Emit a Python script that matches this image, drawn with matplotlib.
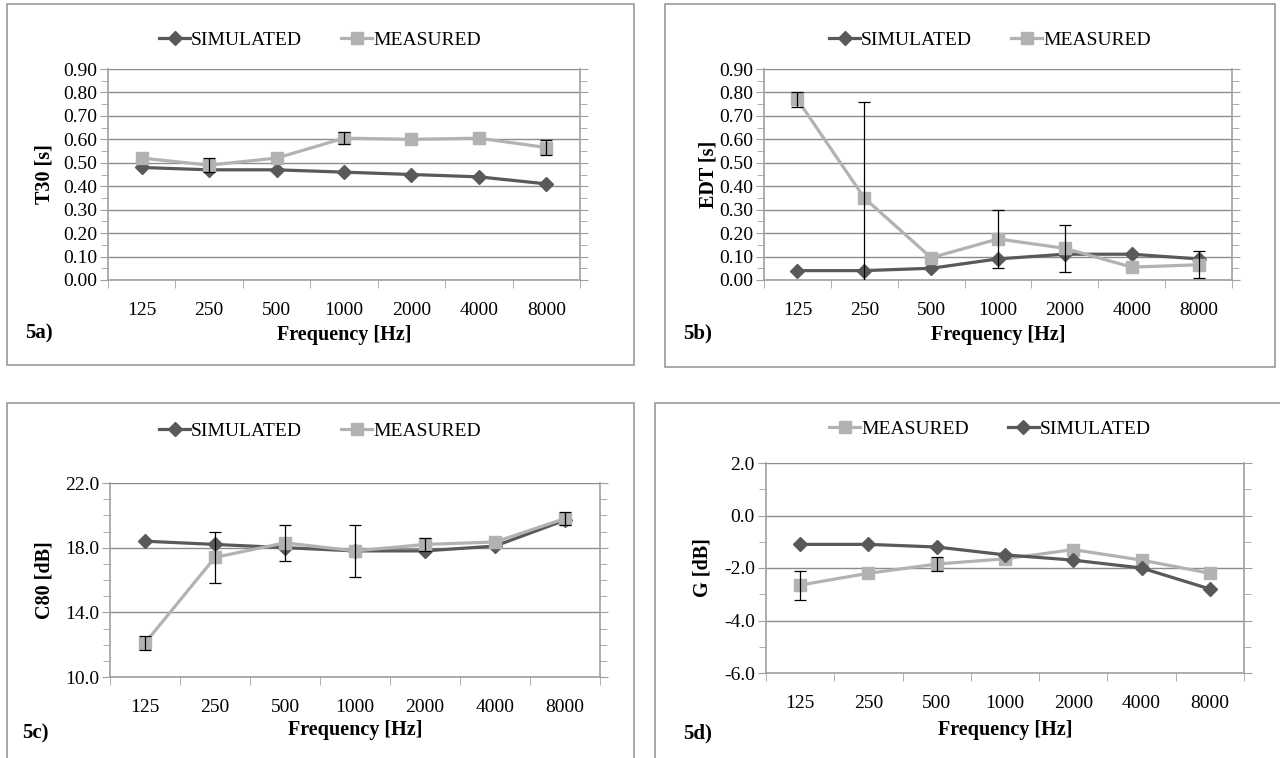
import numpy as np
import matplotlib.pyplot as plt
from matplotlib.patches import Rectangle

plt.rcParams['font.family'] = ['Liberation Serif', 'DejaVu Serif']

freqs = ['125', '250', '500', '1000', '2000', '4000', '8000']

# 0 = error bar too small to be seen under the marker
t30_sim = [0.48, 0.47, 0.47, 0.46, 0.45, 0.44, 0.41]
t30_meas = [0.52, 0.49, 0.52, 0.605, 0.60, 0.605, 0.565]
t30_err = [0, 0.03, 0, 0.025, 0, 0, 0.033]

edt_sim = [0.04, 0.04, 0.05, 0.09, 0.11, 0.11, 0.09]
edt_meas = [0.77, 0.35, 0.095, 0.175, 0.135, 0.055, 0.065]
edt_err = [0.03, 0.41, 0, 0.125, 0.10, 0, 0.058]

c80_sim = [18.4, 18.2, 18.0, 17.8, 17.8, 18.1, 19.7]
c80_meas = [12.1, 17.4, 18.3, 17.8, 18.2, 18.35, 19.8]
c80_err = [0.42, 1.6, 1.1, 1.6, 0.42, 0, 0.42]

g_sim = [-1.1, -1.1, -1.2, -1.5, -1.7, -2.0, -2.8]
g_meas = [-2.65, -2.2, -1.85, -1.65, -1.3, -1.7, -2.2]
g_err = [0.55, 0, 0.28, 0, 0, 0, 0]

W, H = 1280, 758
SIM_C = '#595959'
MEAS_C = '#b2b2b2'
GRID_C = '#8c8c8c'
AX_C = '#a0a0a0'

fig = plt.figure(figsize=(W / 100, H / 100), dpi=100)


def px_rect(x0, y0, x1, y1):
    return [x0 / W, 1 - y1 / H, (x1 - x0) / W, (y1 - y0) / H]


def panel(rect, sim, meas, err, ylim, major, minor, fmt, ylabel, tag,
          box, legend_xy, ylab_x, xlab_y, tag_xy, meas_first=False):
    # outer frame of the panel
    bx0, by0, bx1, by1 = box
    fig.patches.append(Rectangle((bx0 / W, 1 - by1 / H), (bx1 - bx0) / W,
                                 (by1 - by0) / H, transform=fig.transFigure,
                                 fill=False, edgecolor='#9a9a9a', lw=1.2))
    ax = fig.add_axes(px_rect(*rect))
    x = list(range(len(freqs)))
    z_sim, z_meas = (4, 3) if meas_first else (3, 4)
    l_sim, = ax.plot(x, sim, color=SIM_C, lw=2.3, marker='D', ms=7,
                     label='SIMULATED', zorder=z_sim)
    l_meas, = ax.plot(x, meas, color=MEAS_C, lw=2.3, marker='s', ms=8.5,
                      label='MEASURED', zorder=z_meas)
    idx = [i for i in x if err[i] > 0]
    ax.errorbar(idx, [meas[i] for i in idx], yerr=[err[i] for i in idx],
                fmt='none', ecolor='black', elinewidth=0.9,
                capsize=4, capthick=0.9, zorder=5)
    ax.set_xlim(-0.5, len(freqs) - 0.5)
    ax.set_ylim(*ylim)
    ax.set_xticks(x)
    ax.set_xticklabels(freqs)
    ax.set_xticks([i - 0.5 for i in range(len(freqs) + 1)], minor=True)
    ax.tick_params(axis='x', which='major', length=0, pad=16, labelsize=14)
    ax.tick_params(axis='x', which='minor', length=6, color=AX_C, direction='out')
    ax.set_yticks(np.arange(ylim[0], ylim[1] + 1e-9, major))
    ax.set_yticks(np.arange(ylim[0], ylim[1] + 1e-9, minor), minor=True)
    ax.yaxis.set_major_formatter(plt.FormatStrFormatter(fmt))
    ax.tick_params(axis='y', which='both', left=True, right=True, direction='out',
                   color=AX_C, labelsize=14, pad=2)
    ax.tick_params(axis='y', which='major', length=6)
    ax.tick_params(axis='y', which='minor', length=5)
    ax.grid(axis='y', which='major', color=GRID_C, lw=1)
    ax.set_axisbelow(True)
    for s in ['left', 'right', 'bottom']:
        ax.spines[s].set_color(AX_C)
        ax.spines[s].set_linewidth(1.2)
    ax.spines['top'].set_visible(False)
    fig.text(ylab_x / W, 1 - (rect[1] + rect[3]) / 2 / H, ylabel, rotation=90,
             ha='center', va='center', fontsize=14.5, fontweight='bold')
    fig.text(((rect[0] + rect[2]) / 2) / W, 1 - xlab_y / H, 'Frequency [Hz]',
             ha='center', va='center', fontsize=14.5, fontweight='bold')
    fig.text(tag_xy[0] / W, 1 - tag_xy[1] / H, tag, ha='left', va='center',
             fontsize=15, fontweight='bold')
    handles = [l_meas, l_sim] if meas_first else [l_sim, l_meas]
    fig.legend(handles=handles, loc='center',
               bbox_to_anchor=(legend_xy[0] / W, 1 - legend_xy[1] / H),
               ncol=2, frameon=False, fontsize=14, handlelength=1.6,
               handletextpad=0.05, columnspacing=2.0)
    return ax


panel((108, 69, 580, 280), t30_sim, t30_meas, t30_err, (0, 0.9), 0.1, 0.05,
      '%.2f', 'T30 [s]', '5a)', (7, 4, 634, 365), (320, 40), 45, 335, (25, 333))
panel((764, 69, 1232, 280), edt_sim, edt_meas, edt_err, (0, 0.9), 0.1, 0.05,
      '%.2f', 'EDT [s]', '5b)', (665, 4, 1275, 367), (990, 40), 708, 335, (683, 333))
panel((110, 483, 600, 677), c80_sim, c80_meas, c80_err, (10, 22), 4, 1,
      '%.1f', 'C80 [dB]', '5c)', (7, 403, 634, 770), (320, 431), 45, 730, (22, 733))
panel((766, 463, 1244, 673), g_sim, g_meas, g_err, (-6, 2), 2, 1,
      '%.1f', 'G [dB]', '5d)', (655, 403, 1290, 770), (990, 429), 703, 730, (683, 733),
      meas_first=True)

fig.savefig('out.png', dpi=100)
